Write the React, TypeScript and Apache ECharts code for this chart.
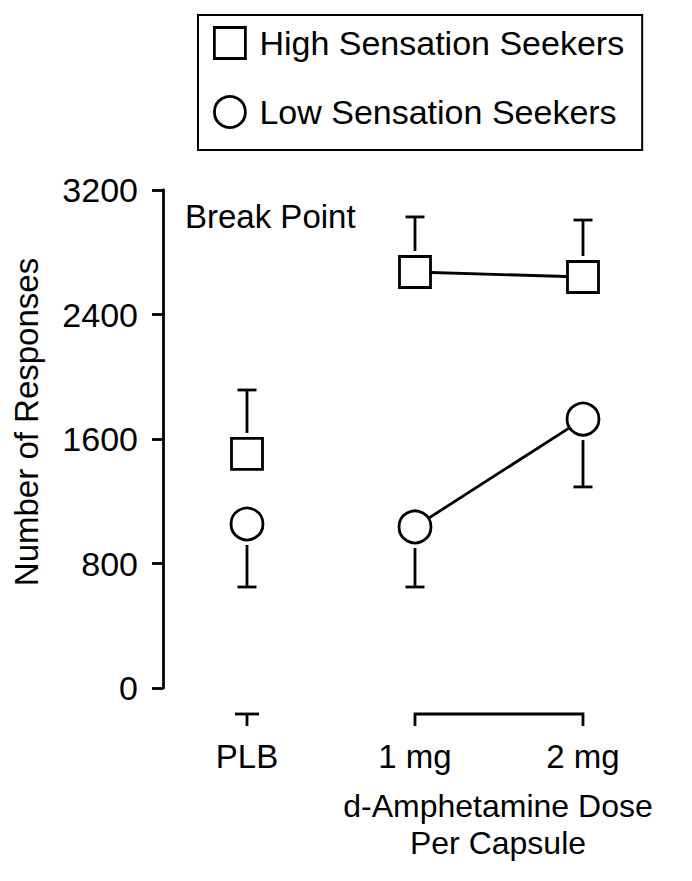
import React, { useEffect, useRef } from "react";
import * as echarts from "echarts";

const categories = ["PLB", "1 mg", "2 mg"];
const highMeans = [1504, 2673, 2641];
const highErrTop = [1915, 3027, 3007];
const lowMeans = [1054, 1035, 1728];
const lowErrBottom = [649, 649, 1292];
const joined = [false, true, true];
const yMin = 0;
const yMax = 3200;
const yInterval = 800;
const axisSegments = [
  ["PLB", "PLB"],
  ["1 mg", "2 mg"],
];

const FONT = "'Liberation Sans', Arial, Helvetica, sans-serif";
const INK = "#000";

export default function App() {
  const ref = useRef<HTMLDivElement>(null);

  useEffect(() => {
    document.body.style.margin = "0";
    if (!ref.current) return;
    const chart = echarts.init(ref.current, undefined, { renderer: "svg" });

    const markerGap = 21;
    const capHalf = 9.5;
    const LW = 2.8;

    const errorRender = (params: any, api: any) => {
      const x = api.value(0);
      const v = api.value(1);
      const e = api.value(2);
      const p0 = api.coord([x, v]);
      const p1 = api.coord([x, e]);
      const dir = Math.sign(p1[1] - p0[1]);
      const start = p0[1] + dir * markerGap;
      return {
        type: "group",
        children: [
          {
            type: "line",
            shape: { x1: p0[0], y1: start, x2: p0[0], y2: p1[1] },
            style: { stroke: INK, lineWidth: LW },
          },
          {
            type: "line",
            shape: { x1: p0[0] - capHalf, y1: p1[1], x2: p0[0] + capHalf, y2: p1[1] },
            style: { stroke: INK, lineWidth: LW },
          },
        ],
      };
    };

    const axisOffset = 26;
    const tickLen = 12;
    const segRender = (params: any, api: any) => {
      const a = api.coord([api.value(0), yMin]);
      const b = api.coord([api.value(1), yMin]);
      const y = a[1] + axisOffset;
      const style = { stroke: INK, lineWidth: LW, fill: "none" };
      if (a[0] === b[0]) {
        return {
          type: "group",
          children: [
            { type: "line", shape: { x1: a[0] - 12, y1: y, x2: a[0] + 12, y2: y }, style },
            { type: "line", shape: { x1: a[0], y1: y, x2: a[0], y2: y + tickLen }, style },
          ],
        };
      }
      return {
        type: "polyline",
        shape: {
          points: [
            [a[0], y + tickLen],
            [a[0], y],
            [b[0], y],
            [b[0], y + tickLen],
          ],
        },
        style,
      };
    };

    const option: any = {
      animation: false,
      backgroundColor: "#fff",
      textStyle: { fontFamily: FONT, color: INK },
      grid: { left: 163, right: 25, top: 190, bottom: 193 },
      legend: {
        orient: "vertical",
        left: 198,
        top: 15,
        padding: [11, 18, 21, 15],
        borderColor: INK,
        borderWidth: 2,
        itemGap: 35,
        itemWidth: 31,
        itemHeight: 31,
        itemStyle: { color: "#fff", borderColor: INK, borderWidth: LW },
        textStyle: { fontFamily: FONT, fontSize: 34, color: INK, padding: [0, 0, 0, 9] },
        data: [
          { name: "High Sensation Seekers", icon: "rect" },
          { name: "Low Sensation Seekers", icon: "circle" },
        ],
      },
      xAxis: {
        type: "category",
        data: categories,
        offset: axisOffset,
        axisLine: { show: false },
        axisTick: { show: false },
        axisLabel: { fontFamily: FONT, fontSize: 33, color: INK, margin: 26 },
        splitLine: { show: false },
      },
      yAxis: {
        type: "value",
        min: yMin,
        max: yMax,
        interval: yInterval,
        name: "Number of Responses",
        nameLocation: "middle",
        nameGap: 120,
        nameTextStyle: { fontFamily: FONT, fontSize: 33, color: INK, padding: [0, 0, 0, 34] },
        axisLine: { show: true, lineStyle: { color: INK, width: LW } },
        axisTick: { show: true, length: 11, lineStyle: { color: INK, width: LW } },
        axisLabel: {
          fontFamily: FONT,
          fontSize: 34,
          color: INK,
          margin: 25,
          formatter: (v: number) => String(v),
        },
        splitLine: { show: false },
      },
      graphic: [
        {
          type: "text",
          left: 185,
          top: 200,
          style: { text: "Break Point", font: `33px ${FONT}`, fill: INK },
        },
        {
          type: "text",
          x: 498,
          y: 824,
          style: {
            text: "d-Amphetamine Dose\nPer Capsule",
            font: `32px ${FONT}`,
            fill: INK,
            textAlign: "center",
            textVerticalAlign: "middle",
            lineHeight: 37,
          },
        },
      ],
      series: [
        {
          name: "xAxisSegments",
          type: "custom",
          clip: false,
          silent: true,
          renderItem: segRender,
          encode: { x: [0, 1], y: 2 },
          data: axisSegments.map((s) => [categories.indexOf(s[0]), categories.indexOf(s[1]), yMin]),
          z: 1,
        },
        {
          name: "highErr",
          type: "custom",
          renderItem: errorRender,
          encode: { x: 0, y: [1, 2] },
          data: categories.map((c, i) => [i, highMeans[i], highErrTop[i]]),
          z: 1,
        },
        {
          name: "lowErr",
          type: "custom",
          renderItem: errorRender,
          encode: { x: 0, y: [1, 2] },
          data: categories.map((c, i) => [i, lowMeans[i], lowErrBottom[i]]),
          z: 1,
        },
        {
          name: "highLine",
          type: "line",
          symbol: "none",
          data: highMeans.map((v, i) => (joined[i] ? v : "-")),
          lineStyle: { color: INK, width: LW },
          z: 2,
        },
        {
          name: "lowLine",
          type: "line",
          symbol: "none",
          data: lowMeans.map((v, i) => (joined[i] ? v : "-")),
          lineStyle: { color: INK, width: LW },
          z: 2,
        },
        {
          name: "High Sensation Seekers",
          type: "scatter",
          symbol: "rect",
          symbolSize: 31,
          data: highMeans,
          itemStyle: { color: "#fff", borderColor: INK, borderWidth: LW, opacity: 1 },
          z: 3,
        },
        {
          name: "Low Sensation Seekers",
          type: "scatter",
          symbol: "circle",
          symbolSize: 32,
          data: lowMeans,
          itemStyle: { color: "#fff", borderColor: INK, borderWidth: LW, opacity: 1 },
          z: 3,
        },
      ],
    };

    chart.setOption(option);
    return () => chart.dispose();
  }, []);

  return <div ref={ref} style={{ width: 692, height: 881 }} />;
}
